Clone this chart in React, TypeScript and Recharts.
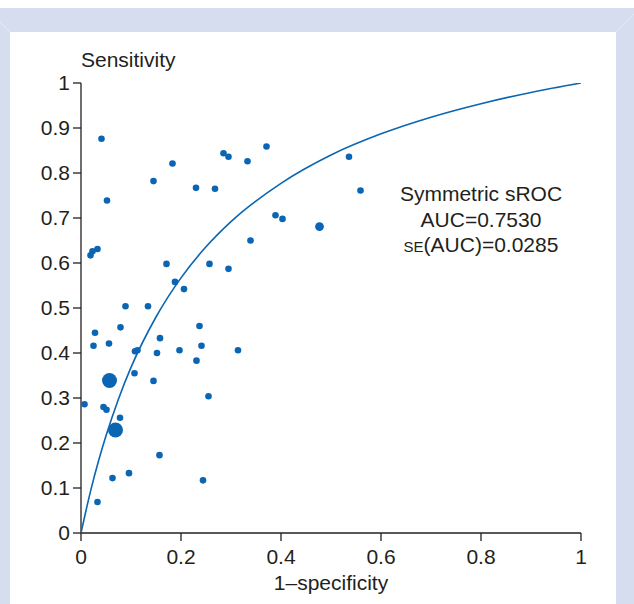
import React from 'react';
import { ScatterChart, Scatter, XAxis, YAxis } from 'recharts';

// study points (1-specificity, sensitivity)
const studyFpr = [
  0.041, 0.052, 0.019, 0.023, 0.033, 0.145, 0.183, 0.23, 0.268, 0.285, 0.295, 0.333, 0.339, 0.171,
  0.257, 0.295, 0.188, 0.206, 0.089, 0.134, 0.028, 0.079, 0.025, 0.056, 0.158, 0.237, 0.241, 0.108,
  0.113, 0.152, 0.197, 0.314, 0.231, 0.107, 0.145, 0.007, 0.045, 0.051, 0.255, 0.078, 0.157, 0.096,
  0.063, 0.244, 0.033, 0.371, 0.389, 0.403, 0.536, 0.559,
];
const studySens = [
  0.876, 0.739, 0.617, 0.626, 0.631, 0.782, 0.821, 0.767, 0.765, 0.844, 0.836, 0.826, 0.65, 0.598,
  0.598, 0.587, 0.558, 0.542, 0.504, 0.504, 0.445, 0.457, 0.416, 0.421, 0.433, 0.46, 0.416, 0.404,
  0.406, 0.4, 0.406, 0.406, 0.383, 0.355, 0.338, 0.286, 0.28, 0.274, 0.304, 0.256, 0.173, 0.133,
  0.122, 0.117, 0.069, 0.859, 0.706, 0.698, 0.836, 0.761,
];

// a slightly bigger study, and the two largest ones
const midFpr = [0.477];
const midSens = [0.681];
const bigFpr = [0.057, 0.069];
const bigSens = [0.339, 0.229];

// symmetric sROC curve
const curveFpr = [0, 0.01, 0.02, 0.035, 0.05, 0.075, 0.1, 0.15, 0.2, 0.25, 0.3, 0.4, 0.5, 0.6, 0.7, 0.8, 0.9, 1];
const curveSens = [0, 0.05, 0.097, 0.16, 0.216, 0.298, 0.368, 0.48, 0.567, 0.636, 0.692, 0.777, 0.84, 0.887, 0.924, 0.954, 0.979, 1];

const xTicks = [0, 0.2, 0.4, 0.6, 0.8, 1];
const yTicks = [0, 0.1, 0.2, 0.3, 0.4, 0.5, 0.6, 0.7, 0.8, 0.9, 1];

const ink = '#231f20';
const blue = '#0a66b2';
const font = '"Liberation Sans", Arial, Helvetica, sans-serif';

const toPoints = (xs: number[], ys: number[]) => xs.map((x, i) => ({ x, y: ys[i] }));

const dot = (r: number) => (p: any) => <circle cx={p.cx} cy={p.cy} r={r} fill={blue} />;

const App: React.FC = () => {
  const studies = toPoints(studyFpr, studySens);
  const mid = toPoints(midFpr, midSens);
  const big = toPoints(bigFpr, bigSens);
  const curve = toPoints(curveFpr, curveSens);

  return (
    <div style={{ position: 'absolute', left: 0, top: 0, width: 634, height: 604, fontFamily: font }}>
      {/* frame + text */}
      <svg width={634} height={604} style={{ position: 'absolute', left: 0, top: 0 }}>
        <rect x={0} y={0} width={634} height={604} fill="#ffffff" />
        <rect x={0} y={8} width={634} height={596} fill="#d5ddee" />
        <rect x={10} y={32} width={606} height={572} fill="#ffffff" />
        <line x1={0} y1={22} x2={10} y2={32} stroke="#e4e9f4" />
        <line x1={616} y1={32} x2={634} y2={14} stroke="#e4e9f4" />
        <text x={81} y={67} fontSize={21} fill={ink}>Sensitivity</text>
        <text x={331} y={590} fontSize={21} fill={ink} textAnchor="middle">1–specificity</text>
        <g fontSize={21} fill={ink} textAnchor="middle">
          <text x={481} y={201}>Symmetric sROC</text>
          <text x={481} y={227}>AUC=0.7530</text>
          <text x={481} y={252}>
            <tspan fontSize={15}>SE</tspan>(AUC)=0.0285
          </text>
        </g>
      </svg>

      <ScatterChart
        width={634}
        height={604}
        margin={{ top: 83, right: 53, bottom: 0, left: 0 }}
        style={{ position: 'absolute', left: 0, top: 0 }}
      >
        <XAxis
          type="number"
          dataKey="x"
          domain={[0, 1]}
          ticks={xTicks}
          tickFormatter={(v: number) => String(v)}
          height={71}
          tickSize={8}
          tickMargin={8}
          axisLine={{ stroke: ink, strokeWidth: 1.3 }}
          tickLine={{ stroke: ink, strokeWidth: 1.3 }}
          tick={{ fontSize: 21, fill: ink, fontFamily: font }}
          allowDataOverflow
        />
        <YAxis
          type="number"
          dataKey="y"
          domain={[0, 1]}
          ticks={yTicks}
          tickFormatter={(v: number) => String(v)}
          width={81}
          tickSize={8}
          tickMargin={3}
          axisLine={{ stroke: ink, strokeWidth: 1.3 }}
          tickLine={{ stroke: ink, strokeWidth: 1.3 }}
          tick={{ fontSize: 21, fill: ink, fontFamily: font }}
          allowDataOverflow
        />
        <Scatter
          data={curve}
          line={{ stroke: blue, strokeWidth: 1.6 }}
          lineJointType="monotoneX"
          shape={() => <g />}
          isAnimationActive={false}
        />
        <Scatter data={studies} shape={dot(3.3)} isAnimationActive={false} />
        <Scatter data={mid} shape={dot(4.4)} isAnimationActive={false} />
        <Scatter data={big} shape={dot(7.5)} isAnimationActive={false} />
      </ScatterChart>
    </div>
  );
};

export default App;
